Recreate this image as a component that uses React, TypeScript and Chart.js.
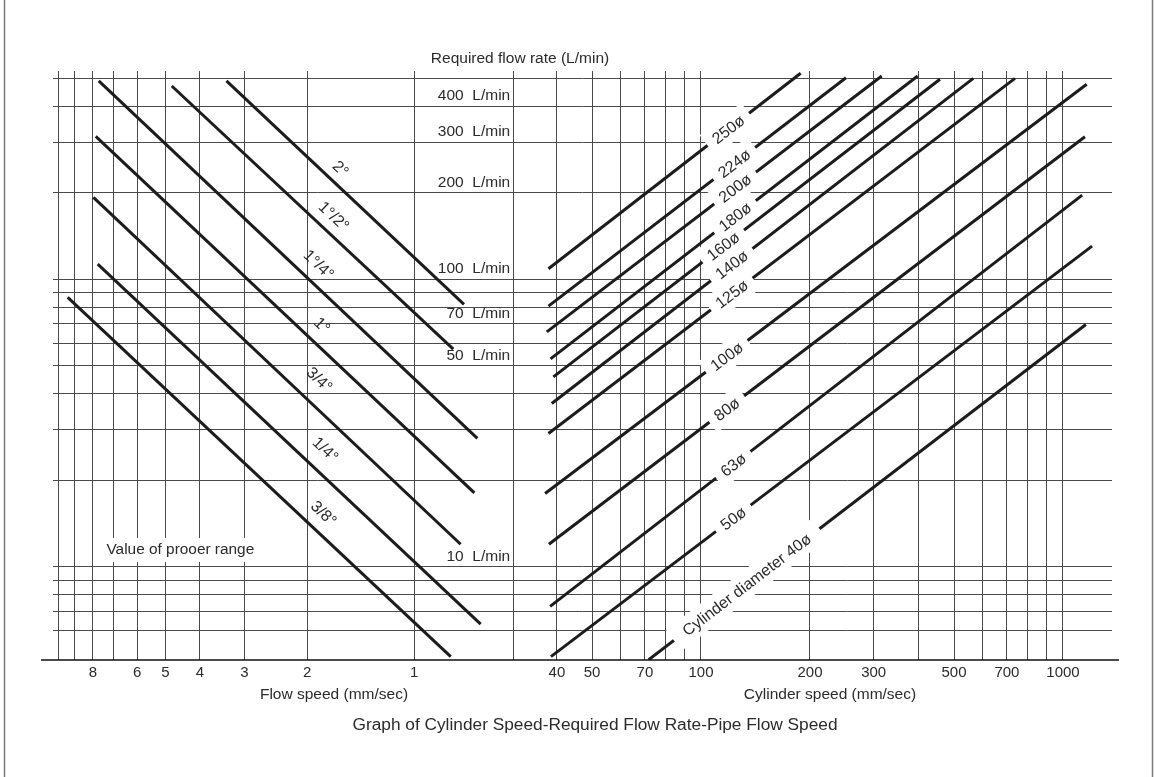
import React, { useEffect, useRef } from 'react';
import { Chart, registerables } from 'chart.js';

Chart.register(...registerables);

// ---------- axis ranges & ticks ----------
const flowMin = 4.75;
const flowMax = 530;
const flowTicks = [6, 7, 8, 9, 10, 20, 30, 40, 50, 60, 70, 80, 90, 100, 200, 300, 400, 500];
const flowLabelValues = [400, 300, 200, 100, 70, 50, 10];

const pipeSpeedMin = 0.5257;
const pipeSpeedMax = 10.35;
const pipeSpeedTicks = [10, 9, 8, 7, 6, 5, 4, 3, 2, 1];
const pipeSpeedLabels = [8, 6, 5, 4, 3, 2, 1];

const cylSpeedMin = 30.38;
const cylSpeedMax = 1366;
const cylSpeedTicks = [40, 50, 60, 70, 80, 90, 100, 200, 300, 400, 500, 600, 700, 800, 900, 1000];
const cylSpeedLabels = [40, 50, 70, 100, 200, 300, 500, 700, 1000];

// ---------- pipe size lines (left: flow speed vs flow rate) ----------
const pipeNames = ['3/8°', '1/4°', '3/4°', '1°', '1°/4°', '1°/2°', '2°'];
const pipeStartSpeed = [9.41, 7.75, 7.97, 7.85, 7.7, 4.8, 3.37];
const pipeStartFlow = [86.5, 113, 192.7, 314, 490, 470, 490];
const pipeEndSpeed = [0.79, 0.651, 0.741, 0.678, 0.665, 0.777, 0.725];
const pipeEndFlow = [4.88, 6.33, 12.0, 18.1, 28.0, 57.2, 81.8];
const pipeLabelSpeed = [1.801, 1.782, 1.852, 1.82, 1.861, 1.689, 1.617];
const pipeLabelFlow = [15.3, 25.5, 44.6, 68.9, 112, 165, 241.2];

// ---------- cylinder lines (right: cylinder speed vs flow rate) ----------
const cylNames = ['250ø', '224ø', '200ø', '180ø', '160ø', '140ø', '125ø', '100ø', '80ø', '63ø', '50ø', 'Cylinder diameter 40ø'];
const cylStartSpeed = [37.9, 37.9, 37.5, 38.4, 39.1, 38.7, 37.9, 37.1, 38.0, 38.3, 38.5, 71.7];
const cylStartFlow = [108.8, 80.7, 65.7, 52.9, 45.8, 37.0, 29.1, 18.0, 12.0, 7.3, 4.88, 4.76];
const cylEndSpeed = [188.5, 251.5, 315.7, 396.8, 457.3, 565.2, 736.8, 1163, 1150, 1130, 1203, 1157];
const cylEndFlow = [520.3, 502.1, 509, 509, 495.9, 499.8, 499.8, 476.4, 313.2, 196.3, 130.5, 69.7];
const cylLabelSpeed = [119, 123.6, 124.2, 124.2, 115.2, 121.6, 121.6, 117.8, 117.8, 122.8, 122.8, 133.7];

const FONT = "'Liberation Sans', Arial, Helvetica, sans-serif";
const TEXT = '#2b2b2b';
const LINE = '#1c1c1c';
const GRID = '#4a4a4a';

const annotations = {
  id: 'annotations',
  afterDatasetsDraw(chart: any) {
    const ctx: CanvasRenderingContext2D = chart.ctx;
    const xL = chart.scales.xL;
    const xR = chart.scales.xR;
    const y = chart.scales.y;
    ctx.save();

    // "Value of prooer range" with white box
    ctx.fillStyle = '#fff';
    ctx.fillRect(100, 538, 163, 24);
    ctx.font = `15.4px ${FONT}`;
    ctx.fillStyle = TEXT;
    ctx.textAlign = 'left';
    ctx.textBaseline = 'middle';
    ctx.fillText('Value of prooer range', 106.5, 550);

    // flow-rate labels
    ctx.font = `15.5px ${FONT}`;
    ctx.textAlign = 'right';
    ctx.textBaseline = 'alphabetic';
    flowLabelValues.forEach((v) => {
      ctx.fillText(`${v}  L/min`, xL.right - 3.5, y.getPixelForValue(v) - 6);
    });

    // pipe labels (beside their lines)
    ctx.font = `16px ${FONT}`;
    ctx.textAlign = 'center';
    ctx.textBaseline = 'middle';
    pipeNames.forEach((name, i) => {
      const x0 = xL.getPixelForValue(pipeStartSpeed[i]);
      const y0 = y.getPixelForValue(pipeStartFlow[i]);
      const x1 = xL.getPixelForValue(pipeEndSpeed[i]);
      const y1 = y.getPixelForValue(pipeEndFlow[i]);
      const ang = Math.atan2(y1 - y0, x1 - x0);
      ctx.save();
      ctx.translate(xL.getPixelForValue(pipeLabelSpeed[i]), y.getPixelForValue(pipeLabelFlow[i]));
      ctx.rotate(ang);
      ctx.fillText(name, 0, 0);
      ctx.restore();
    });

    // cylinder labels (on their lines, white boxes)
    const items = cylNames.map((name, i) => {
      const x0 = xR.getPixelForValue(cylStartSpeed[i]);
      const y0 = y.getPixelForValue(cylStartFlow[i]);
      const x1 = xR.getPixelForValue(cylEndSpeed[i]);
      const y1 = y.getPixelForValue(cylEndFlow[i]);
      const lx = xR.getPixelForValue(cylLabelSpeed[i]);
      const t = (lx - x0) / (x1 - x0);
      return { name, lx, ly: y0 + t * (y1 - y0), ang: Math.atan2(y1 - y0, x1 - x0) };
    });
    ctx.font = `16px ${FONT}`;
    items.forEach((it) => {
      const w = ctx.measureText(it.name).width + (it.name.length > 6 ? 26 : 16);
      ctx.save();
      ctx.translate(it.lx, it.ly);
      ctx.rotate(it.ang);
      ctx.fillStyle = '#fff';
      ctx.fillRect(-w / 2, -13, w, 26);
      ctx.restore();
    });
    ctx.fillStyle = TEXT;
    items.forEach((it) => {
      ctx.save();
      ctx.translate(it.lx, it.ly);
      ctx.rotate(it.ang);
      ctx.fillText(it.name, 0, 1);
      ctx.restore();
    });
    ctx.restore();
  },
  afterDraw(chart: any) {
    const ctx: CanvasRenderingContext2D = chart.ctx;
    const ca = chart.chartArea;
    ctx.save();
    // baseline
    ctx.strokeStyle = '#111';
    ctx.lineWidth = 1.5;
    ctx.beginPath();
    ctx.moveTo(41, ca.bottom);
    ctx.lineTo(1119, ca.bottom);
    ctx.stroke();
    // outer frame sides
    ctx.strokeStyle = '#7a7a7a';
    ctx.lineWidth = 1.5;
    ctx.beginPath();
    ctx.moveTo(4.5, 0);
    ctx.lineTo(4.5, 777);
    ctx.moveTo(1152.5, 0);
    ctx.lineTo(1152.5, 777);
    ctx.stroke();
    // texts
    ctx.fillStyle = TEXT;
    ctx.textBaseline = 'middle';
    ctx.textAlign = 'center';
    ctx.font = `15.5px ${FONT}`;
    ctx.fillText('Required flow rate (L/min)', 520, 59);
    ctx.fillText('Flow speed (mm/sec)', 334, 695);
    ctx.fillText('Cylinder speed (mm/sec)', 830, 695);
    ctx.font = `17.3px ${FONT}`;
    ctx.fillText('Graph of Cylinder Speed-Required Flow Rate-Pipe Flow Speed', 595, 725);
    ctx.restore();
  },
};

export default function App() {
  const ref = useRef<HTMLCanvasElement>(null);
  useEffect(() => {
    if (!ref.current) return;
    Chart.defaults.font.family = FONT;
    Chart.defaults.color = TEXT;
    const lineStyle = { borderColor: LINE, borderWidth: 3, pointRadius: 0, fill: false, tension: 0 };
    const datasets: any[] = [
      ...pipeNames.map((name, i) => ({
        label: name,
        xAxisID: 'xL',
        yAxisID: 'y',
        data: [
          { x: pipeStartSpeed[i], y: pipeStartFlow[i] },
          { x: pipeEndSpeed[i], y: pipeEndFlow[i] },
        ],
        ...lineStyle,
      })),
      ...cylNames.map((name, i) => ({
        label: name,
        xAxisID: 'xR',
        yAxisID: 'y',
        data: [
          { x: cylStartSpeed[i], y: cylStartFlow[i] },
          { x: cylEndSpeed[i], y: cylEndFlow[i] },
        ],
        ...lineStyle,
      })),
    ];
    const xAxisHeight = (s: any) => {
      s.height = 30;
    };
    const chart = new Chart(ref.current, {
      type: 'line',
      data: { datasets },
      options: {
        responsive: false,
        animation: false,
        events: [],
        layout: { padding: { left: 53, right: 43, top: 71, bottom: 87 } },
        plugins: { legend: { display: false }, tooltip: { enabled: false } },
        scales: {
          xL: {
            type: 'logarithmic',
            position: 'bottom',
            stack: 'speed',
            stackWeight: 460.7,
            reverse: true,
            min: pipeSpeedMin,
            max: pipeSpeedMax,
            bounds: 'data',
            afterBuildTicks: (s: any) => {
              s.ticks = pipeSpeedTicks.map((v) => ({ value: v }));
            },
            afterFit: xAxisHeight,
            grid: { color: GRID, lineWidth: 1, drawTicks: false },
            border: { display: false },
            ticks: {
              autoSkip: false,
              maxRotation: 0,
              padding: 4,
              font: { size: 15 },
              color: TEXT,
              callback: (v: any) => (pipeSpeedLabels.includes(Number(v)) ? String(v) : ''),
            },
          },
          xR: {
            type: 'logarithmic',
            position: 'bottom',
            stack: 'speed',
            stackWeight: 598.3,
            min: cylSpeedMin,
            max: cylSpeedMax,
            bounds: 'data',
            afterBuildTicks: (s: any) => {
              s.ticks = [cylSpeedMin, ...cylSpeedTicks].map((v) => ({ value: v }));
            },
            afterFit: xAxisHeight,
            grid: { color: GRID, lineWidth: 1, drawTicks: false },
            border: { display: false },
            ticks: {
              autoSkip: false,
              maxRotation: 0,
              padding: 4,
              font: { size: 15 },
              color: TEXT,
              callback: (v: any) => (cylSpeedLabels.includes(Number(v)) ? String(v) : ''),
            },
          },
          y: {
            type: 'logarithmic',
            position: 'left',
            min: flowMin,
            max: flowMax,
            bounds: 'data',
            afterBuildTicks: (s: any) => {
              s.ticks = flowTicks.map((v) => ({ value: v }));
            },
            grid: { color: GRID, lineWidth: 1, drawTicks: false },
            border: { display: false },
            ticks: { display: false },
          },
        },
      } as any,
      plugins: [annotations],
    });
    return () => chart.destroy();
  }, []);
  return (
    <div style={{ position: 'absolute', left: 0, top: 0, width: 1155, height: 777, background: '#fff' }}>
      <canvas ref={ref} width={1155} height={777} style={{ display: 'block', width: 1155, height: 777 }} />
    </div>
  );
}
